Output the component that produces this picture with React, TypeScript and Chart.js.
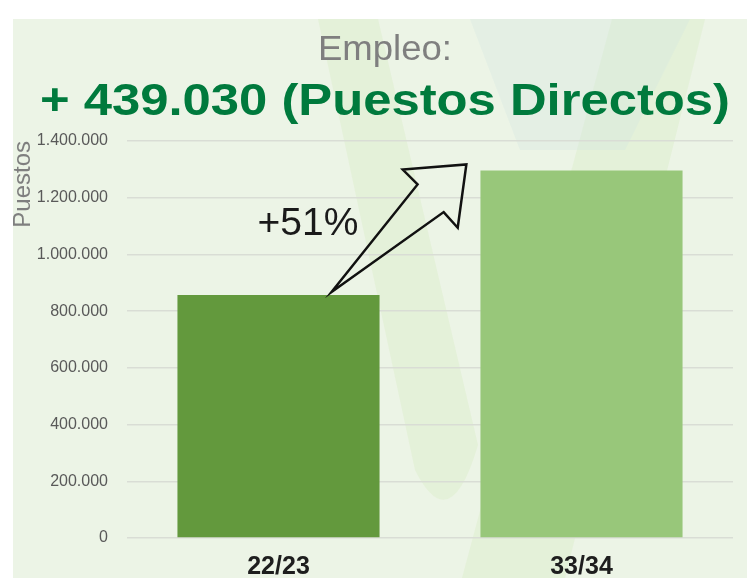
import React, { useEffect, useRef } from "react";
import { Chart, registerables } from "chart.js";

Chart.register(...registerables);

// ---- data ----
const categories = ["22/23", "33/34"];
const puestos = [857000, 1296030];
const barColors = ["#63993d", "#98c77a"];
const yMax = 1400000;
const yStep = 200000;
const titleText = "Empleo:";
const subtitleText = "+ 439.030 (Puestos Directos)";
const growthLabel = "+51%";
const yAxisTitle = "Puestos";

const FONT = "'Liberation Sans', Arial, sans-serif";

function fmt(v: number): string {
  return String(Math.round(v)).replace(/\B(?=(\d{3})+(?!\d))/g, ".");
}

function stretchText(
  ctx: CanvasRenderingContext2D,
  text: string,
  cx: number,
  baseline: number,
  font: string,
  color: string,
  targetWidth: number
) {
  ctx.save();
  ctx.font = font;
  const w = ctx.measureText(text).width;
  const s = targetWidth / w;
  ctx.translate(cx, baseline);
  ctx.scale(s, 1);
  ctx.textAlign = "center";
  ctx.textBaseline = "alphabetic";
  ctx.fillStyle = color;
  ctx.fillText(text, 0, 0);
  ctx.restore();
}

const decorPlugin = {
  id: "decor",
  beforeDraw(chart: any) {
    const { ctx, width, height } = chart;
    ctx.save();
    ctx.fillStyle = "#ffffff";
    ctx.fillRect(0, 0, width, height);
    ctx.fillStyle = "#ecf4e6";
    ctx.fillRect(13, 19, width - 13, height - 19);

    // faint watermark
    ctx.fillStyle = "rgba(222,238,206,0.55)";
    ctx.beginPath();
    ctx.moveTo(318, 19);
    ctx.lineTo(378, 19);
    ctx.lineTo(478, 445);
    ctx.quadraticCurveTo(450, 540, 415, 470);
    ctx.closePath();
    ctx.fill();

    ctx.beginPath();
    ctx.moveTo(612, 19);
    ctx.lineTo(705, 19);
    ctx.lineTo(565, height);
    ctx.lineTo(462, height);
    ctx.closePath();
    ctx.fill();

    ctx.fillStyle = "rgba(210,228,224,0.3)";
    ctx.beginPath();
    ctx.moveTo(470, 19);
    ctx.lineTo(690, 19);
    ctx.lineTo(625, 150);
    ctx.lineTo(520, 150);
    ctx.closePath();
    ctx.fill();
    ctx.restore();
  },
  afterDatasetsDraw(chart: any) {
    const { ctx } = chart;
    const xs = chart.scales.x;
    const ys = chart.scales.y;
    const cw = xs.getPixelForValue(1) - xs.getPixelForValue(0);
    const bx = xs.getPixelForValue(0) + 0.175 * cw;
    const by = ys.getPixelForValue(puestos[0]) - 3;
    const tx = xs.getPixelForValue(1) - 0.38 * cw;
    const ty = ys.getPixelForValue(puestos[1]) - 6;
    const dx = tx - bx;
    const dy = ty - by;
    const L = Math.hypot(dx, dy);
    const ux = dx / L;
    const uy = dy / L;
    const nx = uy;
    const ny = -ux;
    const pt = (a: number, b: number) => [bx + a * L * ux + b * nx, by + a * L * uy + b * ny];
    const pts = [
      [bx, by],
      pt(0.735, 19),
      pt(0.732, 40),
      [tx, ty],
      pt(0.732, -40),
      pt(0.735, -19),
    ];
    ctx.save();
    ctx.beginPath();
    ctx.moveTo(pts[0][0], pts[0][1]);
    for (let i = 1; i < pts.length; i++) ctx.lineTo(pts[i][0], pts[i][1]);
    ctx.closePath();
    ctx.lineWidth = 2.5;
    ctx.lineJoin = "miter";
    ctx.strokeStyle = "#111111";
    ctx.stroke();

    // growth label
    ctx.font = `39px ${FONT}`;
    ctx.fillStyle = "#1a1a1a";
    ctx.textAlign = "center";
    ctx.textBaseline = "alphabetic";
    const lx = xs.getPixelForValue(0) + 0.097 * cw;
    const ly = ys.getPixelForValue((puestos[0] + puestos[1]) / 2) + 2;
    ctx.fillText(growthLabel, lx, ly);
    ctx.restore();
  },
  afterDraw(chart: any) {
    const { ctx } = chart;
    stretchText(ctx, titleText, 385, 60, `35px ${FONT}`, "#7f7f7f", 134);
    stretchText(ctx, subtitleText, 385, 115, `bold 44px ${FONT}`, "#007a3d", 690);
  },
};

export default function App() {
  const ref = useRef<HTMLCanvasElement | null>(null);

  useEffect(() => {
    if (!ref.current) return;
    const chart = new Chart(ref.current, {
      type: "bar",
      data: {
        labels: categories,
        datasets: [
          {
            data: puestos,
            backgroundColor: barColors,
            borderWidth: 0,
            barPercentage: 0.667,
            categoryPercentage: 1,
          },
        ],
      },
      options: {
        animation: false,
        responsive: false,
        maintainAspectRatio: false,
        layout: { padding: { top: 141, right: 14, bottom: 0, left: 0 } },
        plugins: {
          legend: { display: false },
          tooltip: { enabled: false },
          title: { display: false },
        },
        scales: {
          x: {
            grid: { display: false, drawTicks: false },
            border: { display: false },
            ticks: {
              font: { family: FONT, size: 25, weight: "bold" },
              color: "#1e1e1e",
              padding: 14,
            },
            afterFit: (s: any) => {
              s.height = 40;
            },
          },
          y: {
            min: 0,
            max: yMax,
            grid: { color: "#d9ddd5", lineWidth: 1.5, drawTicks: false },
            border: { display: false },
            ticks: {
              stepSize: yStep,
              padding: 19,
              font: { family: FONT, size: 16 },
              color: "#595959",
              callback: (v: any) => fmt(Number(v)),
            },
            title: {
              display: true,
              text: yAxisTitle,
              align: "end",
              font: { family: FONT, size: 24 },
              color: "#7f7f7f",
              padding: { top: 9, bottom: 0 },
            },
            afterFit: (s: any) => {
              s.width = 127;
            },
          },
        },
      },
      plugins: [decorPlugin],
    } as any);
    return () => chart.destroy();
  }, []);

  return (
    <div style={{ position: "fixed", left: 0, top: 0, width: 747, height: 578 }}>
      <canvas ref={ref} width={747} height={578} style={{ display: "block", width: 747, height: 578 }} />
    </div>
  );
}
